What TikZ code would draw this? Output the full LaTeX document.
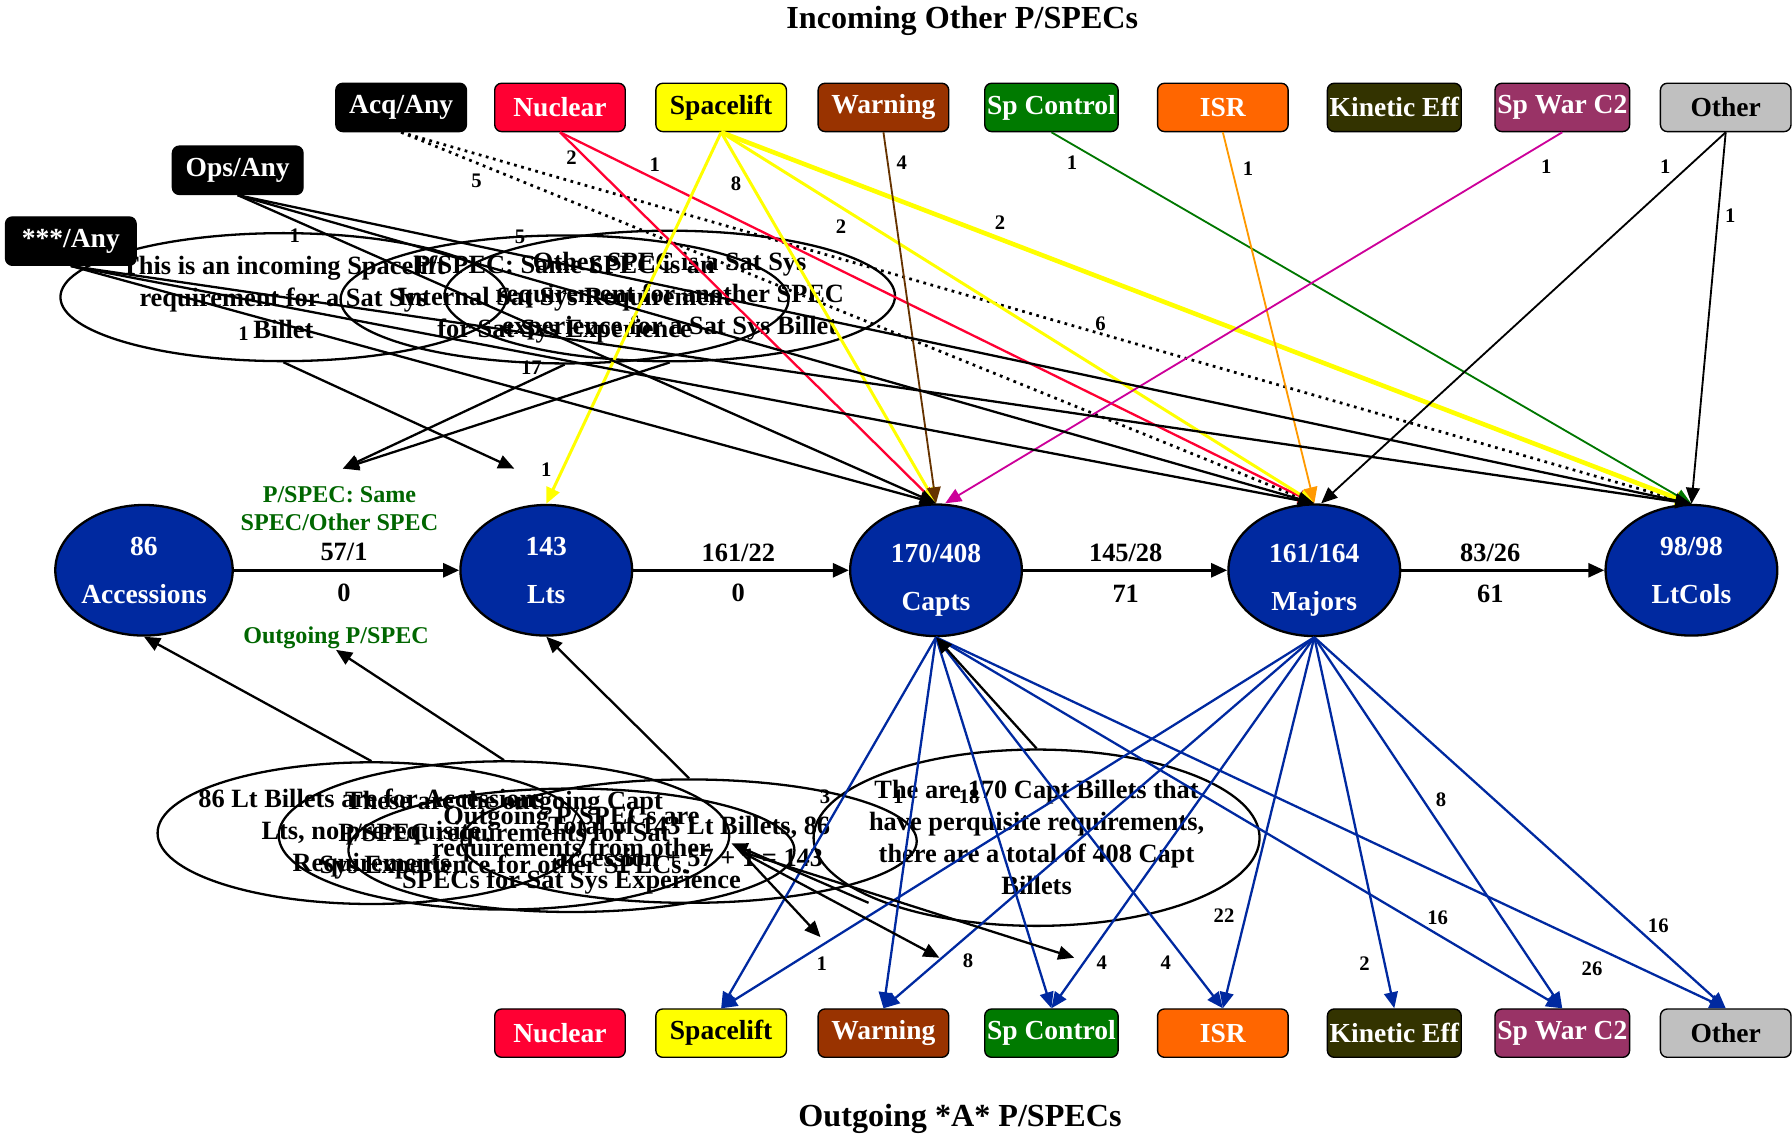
\documentclass[tikz,border=0pt]{standalone}
\usepackage{fontspec}
\setmainfont{Liberation Serif}
\usetikzlibrary{shapes.geometric,arrows.meta,positioning}
\definecolor{rankblue}{HTML}{0029A0}
\definecolor{nucred}{HTML}{FF0033}
\definecolor{liftyellow}{HTML}{FFFF00}
\definecolor{warnbrown}{HTML}{993300}
\definecolor{ctrlgreen}{HTML}{007A00}
\definecolor{isrorange}{HTML}{FF6600}
\definecolor{kinolive}{HTML}{333300}
\definecolor{c2purple}{HTML}{993366}
\definecolor{othgray}{HTML}{C0C0C0}
\definecolor{notegreen}{HTML}{006600}
\definecolor{warnline}{HTML}{663300}
\definecolor{isrline}{HTML}{FF9900}
\definecolor{c2line}{HTML}{CC0099}
\definecolor{ctrlline}{HTML}{007700}

\begin{document}
\begin{tikzpicture}[x=0.0175cm,y=-0.0175cm,>={Triangle[length=7pt,width=6pt]},line width=1pt]
    \tikzstyle{spec}=[draw=black,line width=0.6pt,rounded corners=3pt,minimum width=2cm,minimum height=0.74cm,inner sep=1pt,font=\bfseries\fontsize{12}{14}\selectfont]
    \tikzstyle{rank}=[ellipse,draw=black,line width=1pt,fill=rankblue,minimum width=2.63cm,minimum height=2cm,inner sep=0pt,text=white,align=center,font=\bfseries\fontsize{12}{21}\selectfont]
    \tikzstyle{note}=[ellipse,draw=black,line width=1pt,inner sep=-12pt,align=center,font=\bfseries\fontsize{11.5}{14}\selectfont]
    \tikzstyle{num}=[inner sep=1pt,font=\bfseries\fontsize{11.5}{13}\selectfont]
    \tikzstyle{cnt}=[inner sep=0pt,font=\bfseries\fontsize{9}{10}\selectfont]
    \tikzstyle{gtext}=[inner sep=0pt,align=center,text=notegreen,font=\bfseries\fontsize{10.5}{12.5}\selectfont]
    \tikzstyle{flow}=[->,line width=1.4pt]
    \tikzstyle{outline}=[->,draw=rankblue,line width=1pt]

    \useasboundingbox (0,0) rectangle (1568,994);

    % Titles
    \node[font=\bfseries\fontsize{14}{16}\selectfont] (title-in) at (842,18) {Incoming Other P/SPECs};
    \node[font=\bfseries\fontsize{14}{16}\selectfont] (title-out) at (840,979) {Outgoing *A* P/SPECs};

    % Draw the P/SPEC boxes, incoming row and outgoing row
    \node[spec,fill=black,text=white] (acq) at (351,94) {Acq/Any};
    \node[spec,fill=black,text=white] (ops) at (208,149) {Ops/Any};
    \node[spec,fill=black,text=white] (any) at (62,211) {***/Any};
    \foreach \name/\x/\fc/\tc/\txt in {nuc/490/nucred/white/Nuclear,lift/631/liftyellow/black/Spacelift,
            warn/773/warnbrown/white/Warning,ctrl/920/ctrlgreen/white/Sp Control,isr/1070/isrorange/white/ISR,
            kin/1220/kinolive/white/Kinetic Eff,c2/1367/c2purple/white/Sp War C2,oth/1510/othgray/black/Other}
    {
        \node[spec,fill=\fc,text=\tc] (in-\name) at (\x,94) {\txt};
        \node[spec,fill=\fc,text=\tc] (out-\name) at (\x,904) {\txt};
    }

    % Draw the grade nodes
    \node[rank] (acc) at (126,499) {86\\Accessions};
    \node[rank] (lt) at (478,499) {143\\Lts};
    \node[rank] (capt) at (819,499) {\rule{0pt}{17pt}170/408\\Capts};
    \node[rank] (maj) at (1150,499) {\rule{0pt}{17pt}161/164\\Majors};
    \node[rank] (ltc) at (1480,499) {98/98\\LtCols};

    % Flow between grades
    \draw[flow] (acc) -- (lt);
    \draw[flow] (lt) -- (capt);
    \draw[flow] (capt) -- (maj);
    \draw[flow] (maj) -- (ltc);
    \node[num] (f1-a) at (301,483) {57/1};    \node[num] (f1-b) at (301,519) {0};
    \node[num] (f2-a) at (646,484) {161/22};  \node[num] (f2-b) at (646,519) {0};
    \node[num] (f3-a) at (985,484) {145/28};  \node[num] (f3-b) at (985,520) {71};
    \node[num] (f4-a) at (1304,484) {83/26};  \node[num] (f4-b) at (1304,520) {61};
    \node[gtext] (same) at (297,445) {P/SPEC: Same\\SPEC/Other SPEC};
    \node[gtext] (outps) at (294,558) {Outgoing P/SPEC};

    % Notes
    \node[note,minimum width=6.83cm,minimum height=1.96cm] (e1) at (248,260) {This is an incoming Spacelift\\requirement for a Sat Sys\\Billet};
    \node[note,minimum width=6.86cm,minimum height=1.96cm] (e2) at (494,262) {P/SPEC: Same SPEC is an\\Internal Sat Sys Requirement\\for Sat Sys Experience};
    \node[note,minimum width=6.9cm,minimum height=2cm] (e3) at (586,259) {Other SPEC is a Sat Sys\\requirement for another SPEC\\experience for a Sat Sys Billet};
    \node[note,minimum width=6.55cm,minimum height=2.17cm] (b1) at (325,729) {86 Lt Billets are for Accessions\\Lts, no prerequisite\\Requirements};
    \node[note,minimum width=6.9cm,minimum height=2.27cm] (b2) at (441,731) {These are the outgoing Capt\\P/SPEC requirements for Sat\\Sys Experience for other SPECs.};
    \node[note,minimum width=6.83cm,minimum height=1.89cm] (b3) at (500,744) {Outgoing P/SPECs are\\requirements from other\\SPECs for Sat Sys Experience};
    \node[note,minimum width=6.97cm,minimum height=1.89cm] (b4) at (603,736) {Total of 143 Lt Billets, 86\\accession + 57 + 1 = 143};
    \node[note,minimum width=6.83cm,minimum height=2.7cm] (b5) at (907,733) {The are 170 Capt Billets that\\have perquisite requirements,\\there are a total of 408 Capt\\Billets};

    % Incoming P/SPECs
    \draw[->,dotted,line width=1.2pt] (acq.south) -- (maj.north);
    \draw[->,dotted,line width=1.2pt] (acq.south) -- (ltc.north);
    \draw[->,nucred] (in-nuc.south) -- (capt.north);
    \draw[->,nucred] (in-nuc.south) -- (maj.north);
    \draw[->,liftyellow,line width=1.3pt] (in-lift.south) -- (lt.north);
    \draw[->,liftyellow,line width=1.3pt] (in-lift.south) -- (capt.north);
    \draw[->,liftyellow,line width=1.3pt] (in-lift.south) -- (maj.north);
    \draw[->,liftyellow,line width=2pt] (in-lift.south) -- (ltc.north);
    \draw[->,warnline,line width=0.8pt] (in-warn.south) -- (capt.north);
    \draw[->,ctrlline,line width=0.8pt] (in-ctrl.south) -- (ltc.north);
    \draw[->,isrline,line width=0.8pt] (in-isr.south) -- (maj.north);
    \draw[->,c2line,line width=0.8pt] (in-c2.south) -- ([xshift=4pt]capt.north);
    \draw[->,line width=0.8pt] (in-oth.south) -- ([xshift=3pt]maj.north);
    \draw[->,line width=0.8pt] (in-oth.south) -- (ltc.north);
    \foreach \dest in {capt,maj,ltc}
    {
        \draw[->] (ops.south) -- (\dest.north);
        \draw[->] (any.south) -- (\dest.north);
    }

    % Outgoing P/SPECs
    \foreach \dest in {lift,warn,ctrl,isr,c2,oth}
        \draw[outline] (capt.south) -- (out-\dest.north);
    \foreach \dest in {lift,warn,ctrl,isr,kin,c2,oth}
        \draw[outline] (maj.south) -- (out-\dest.north);

    % Note pointers
    \coordinate (t1) at (450,410);
    \coordinate (t2) at (300,410);
    \draw[->] (e1.south) -- (t1);
    \draw[->] (e2.south) -- (t2);
    \draw[->] (e3.south) -- (t2);
    \draw[->] (b1.north) -- (acc.south);
    \draw[->] (b2.north) -- (outps.south);
    \draw[->] (b4.north) -- (lt.south);
    \draw[->] (b5.north) -- (capt.south);
    \coordinate (p0) at (648,745);
    \coordinate (p1) at (718,820);
    \coordinate (p2) at (822,838);
    \coordinate (p3) at (940,838);
    \coordinate (p4) at (640,738);
    \coordinate (p5) at (760,790);
    \draw[->] (p0) -- (p1);
    \draw[->] (p0) -- (p2);
    \draw[->] (p0) -- (p3);
    \draw[->] (p5) -- (p4);

    % Counts
    \foreach \x/\y/\t in {500/138/2,573/144/1,417/158/5,644/161/8,736/198/2,875/195/2,789/142/4,938/142/1,
            1092/148/1,1353/146/1,1457/146/1,1514/189/1,963/283/6,478/411/1,258/206/1,455/207/5,465/322/17,213/292/1,
            722/697/3,786/697/1,848/697/18,719/843/1,847/841/8,964/842/4,1020/842/4,1071/801/22,1194/843/2,
            1261/700/8,1258/803/16,1393/848/26,1451/810/16}
        \node[cnt] (c-\x-\y) at (\x,\y) {\t};
\end{tikzpicture}
\end{document}
